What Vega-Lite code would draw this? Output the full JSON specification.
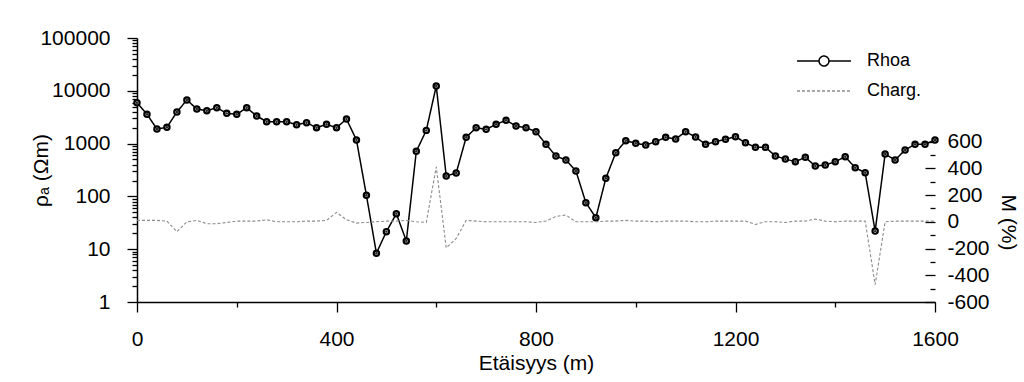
{
  "$schema": "https://vega.github.io/schema/vega-lite/v6.json",
  "width": 798,
  "height": 264,
  "autosize": "none",
  "padding": {"left": 137, "top": 38, "right": 89, "bottom": 80},
  "background": "white",
  "config": {
    "view": {"stroke": null},
    "font": "Liberation Sans",
    "axis": {
      "labelFont": "Liberation Sans", "titleFont": "Liberation Sans",
      "labelFontSize": 21, "titleFontSize": 21, "labelColor": "#000", "titleColor": "#000",
      "titleFontWeight": "normal", "domainColor": "#000", "tickColor": "#000",
      "domainWidth": 1.5, "tickWidth": 1.3, "grid": false, "labelOverlap": false, "labelFlush": false
    }
  },
  "datasets": {
    "rhoa": [
      {"x": 0, "rhoa": 5950, "series": "Rhoa"}, {"x": 20, "rhoa": 3590, "series": "Rhoa"}, {"x": 40, "rhoa": 1890, "series": "Rhoa"},
      {"x": 60, "rhoa": 2040, "series": "Rhoa"}, {"x": 80, "rhoa": 3970, "series": "Rhoa"}, {"x": 100, "rhoa": 6700, "series": "Rhoa"},
      {"x": 120, "rhoa": 4520, "series": "Rhoa"}, {"x": 140, "rhoa": 4200, "series": "Rhoa"}, {"x": 160, "rhoa": 4790, "series": "Rhoa"},
      {"x": 180, "rhoa": 3740, "series": "Rhoa"}, {"x": 200, "rhoa": 3590, "series": "Rhoa"}, {"x": 220, "rhoa": 4790, "series": "Rhoa"},
      {"x": 240, "rhoa": 3330, "series": "Rhoa"}, {"x": 260, "rhoa": 2600, "series": "Rhoa"}, {"x": 280, "rhoa": 2600, "series": "Rhoa"},
      {"x": 300, "rhoa": 2600, "series": "Rhoa"}, {"x": 320, "rhoa": 2280, "series": "Rhoa"}, {"x": 340, "rhoa": 2490, "series": "Rhoa"},
      {"x": 360, "rhoa": 2000, "series": "Rhoa"}, {"x": 380, "rhoa": 2320, "series": "Rhoa"}, {"x": 400, "rhoa": 2000, "series": "Rhoa"},
      {"x": 420, "rhoa": 2920, "series": "Rhoa"}, {"x": 440, "rhoa": 1170, "series": "Rhoa"}, {"x": 460, "rhoa": 105, "series": "Rhoa"},
      {"x": 480, "rhoa": 8.4, "series": "Rhoa"}, {"x": 500, "rhoa": 21.5, "series": "Rhoa"}, {"x": 520, "rhoa": 47, "series": "Rhoa"},
      {"x": 540, "rhoa": 14.3, "series": "Rhoa"}, {"x": 560, "rhoa": 714, "series": "Rhoa"}, {"x": 580, "rhoa": 1780, "series": "Rhoa"},
      {"x": 600, "rhoa": 12300, "series": "Rhoa"}, {"x": 620, "rhoa": 243, "series": "Rhoa"}, {"x": 640, "rhoa": 277, "series": "Rhoa"},
      {"x": 660, "rhoa": 1316, "series": "Rhoa"}, {"x": 680, "rhoa": 2000, "series": "Rhoa"}, {"x": 700, "rhoa": 1860, "series": "Rhoa"},
      {"x": 720, "rhoa": 2320, "series": "Rhoa"}, {"x": 740, "rhoa": 2760, "series": "Rhoa"}, {"x": 760, "rhoa": 2150, "series": "Rhoa"},
      {"x": 780, "rhoa": 2000, "series": "Rhoa"}, {"x": 800, "rhoa": 1680, "series": "Rhoa"}, {"x": 820, "rhoa": 969, "series": "Rhoa"},
      {"x": 840, "rhoa": 582, "series": "Rhoa"}, {"x": 860, "rhoa": 489, "series": "Rhoa"}, {"x": 880, "rhoa": 303, "series": "Rhoa"},
      {"x": 900, "rhoa": 76, "series": "Rhoa"}, {"x": 920, "rhoa": 39.5, "series": "Rhoa"}, {"x": 940, "rhoa": 220, "series": "Rhoa"},
      {"x": 960, "rhoa": 673, "series": "Rhoa"}, {"x": 980, "rhoa": 1135, "series": "Rhoa"}, {"x": 1000, "rhoa": 1012, "series": "Rhoa"},
      {"x": 1020, "rhoa": 940, "series": "Rhoa"}, {"x": 1040, "rhoa": 1087, "series": "Rhoa"}, {"x": 1060, "rhoa": 1316, "series": "Rhoa"},
      {"x": 1080, "rhoa": 1222, "series": "Rhoa"}, {"x": 1100, "rhoa": 1680, "series": "Rhoa"}, {"x": 1120, "rhoa": 1330, "series": "Rhoa"},
      {"x": 1140, "rhoa": 969, "series": "Rhoa"}, {"x": 1160, "rhoa": 1087, "series": "Rhoa"}, {"x": 1180, "rhoa": 1205, "series": "Rhoa"},
      {"x": 1200, "rhoa": 1352, "series": "Rhoa"}, {"x": 1220, "rhoa": 1040, "series": "Rhoa"}, {"x": 1240, "rhoa": 850, "series": "Rhoa"},
      {"x": 1260, "rhoa": 850, "series": "Rhoa"}, {"x": 1280, "rhoa": 582, "series": "Rhoa"}, {"x": 1300, "rhoa": 510, "series": "Rhoa"},
      {"x": 1320, "rhoa": 454, "series": "Rhoa"}, {"x": 1340, "rhoa": 550, "series": "Rhoa"}, {"x": 1360, "rhoa": 376, "series": "Rhoa"},
      {"x": 1380, "rhoa": 393, "series": "Rhoa"}, {"x": 1400, "rhoa": 454, "series": "Rhoa"}, {"x": 1420, "rhoa": 565, "series": "Rhoa"},
      {"x": 1440, "rhoa": 350, "series": "Rhoa"}, {"x": 1460, "rhoa": 281, "series": "Rhoa"}, {"x": 1480, "rhoa": 22, "series": "Rhoa"},
      {"x": 1500, "rhoa": 635, "series": "Rhoa"}, {"x": 1520, "rhoa": 489, "series": "Rhoa"}, {"x": 1540, "rhoa": 757, "series": "Rhoa"},
      {"x": 1560, "rhoa": 969, "series": "Rhoa"}, {"x": 1580, "rhoa": 969, "series": "Rhoa"}, {"x": 1600, "rhoa": 1170, "series": "Rhoa"}
    ],
    "charg": [
      {"x": 0, "m": 10, "series": "Charg."}, {"x": 20, "m": 10, "series": "Charg."}, {"x": 40, "m": 10, "series": "Charg."},
      {"x": 60, "m": 5, "series": "Charg."}, {"x": 80, "m": -75, "series": "Charg."}, {"x": 100, "m": 0, "series": "Charg."},
      {"x": 120, "m": 10, "series": "Charg."}, {"x": 140, "m": -15, "series": "Charg."}, {"x": 160, "m": -15, "series": "Charg."},
      {"x": 180, "m": -5, "series": "Charg."}, {"x": 200, "m": 5, "series": "Charg."}, {"x": 220, "m": 5, "series": "Charg."},
      {"x": 240, "m": 5, "series": "Charg."}, {"x": 260, "m": 15, "series": "Charg."}, {"x": 280, "m": 0, "series": "Charg."},
      {"x": 300, "m": 0, "series": "Charg."}, {"x": 320, "m": 0, "series": "Charg."}, {"x": 340, "m": 5, "series": "Charg."},
      {"x": 360, "m": 5, "series": "Charg."}, {"x": 380, "m": 10, "series": "Charg."}, {"x": 400, "m": 70, "series": "Charg."},
      {"x": 420, "m": 15, "series": "Charg."}, {"x": 440, "m": -10, "series": "Charg."}, {"x": 460, "m": -5, "series": "Charg."},
      {"x": 480, "m": 0, "series": "Charg."}, {"x": 500, "m": 5, "series": "Charg."}, {"x": 520, "m": 5, "series": "Charg."},
      {"x": 540, "m": 10, "series": "Charg."}, {"x": 560, "m": 0, "series": "Charg."}, {"x": 580, "m": -5, "series": "Charg."},
      {"x": 600, "m": 410, "series": "Charg."}, {"x": 620, "m": -195, "series": "Charg."}, {"x": 640, "m": -125, "series": "Charg."},
      {"x": 660, "m": 10, "series": "Charg."}, {"x": 680, "m": 5, "series": "Charg."}, {"x": 700, "m": 0, "series": "Charg."},
      {"x": 720, "m": 0, "series": "Charg."}, {"x": 740, "m": 0, "series": "Charg."}, {"x": 760, "m": 0, "series": "Charg."},
      {"x": 780, "m": 0, "series": "Charg."}, {"x": 800, "m": -5, "series": "Charg."}, {"x": 820, "m": 5, "series": "Charg."},
      {"x": 840, "m": 40, "series": "Charg."}, {"x": 860, "m": 50, "series": "Charg."}, {"x": 880, "m": 0, "series": "Charg."},
      {"x": 900, "m": 0, "series": "Charg."}, {"x": 920, "m": 0, "series": "Charg."}, {"x": 940, "m": 5, "series": "Charg."},
      {"x": 960, "m": 5, "series": "Charg."}, {"x": 980, "m": 10, "series": "Charg."}, {"x": 1000, "m": 5, "series": "Charg."},
      {"x": 1020, "m": 5, "series": "Charg."}, {"x": 1040, "m": 0, "series": "Charg."}, {"x": 1060, "m": 5, "series": "Charg."},
      {"x": 1080, "m": 5, "series": "Charg."}, {"x": 1100, "m": 5, "series": "Charg."}, {"x": 1120, "m": 0, "series": "Charg."},
      {"x": 1140, "m": 0, "series": "Charg."}, {"x": 1160, "m": 5, "series": "Charg."}, {"x": 1180, "m": 5, "series": "Charg."},
      {"x": 1200, "m": 5, "series": "Charg."}, {"x": 1220, "m": 5, "series": "Charg."}, {"x": 1240, "m": -20, "series": "Charg."},
      {"x": 1260, "m": 0, "series": "Charg."}, {"x": 1280, "m": 0, "series": "Charg."}, {"x": 1300, "m": -5, "series": "Charg."},
      {"x": 1320, "m": 5, "series": "Charg."}, {"x": 1340, "m": 5, "series": "Charg."}, {"x": 1360, "m": 20, "series": "Charg."},
      {"x": 1380, "m": 5, "series": "Charg."}, {"x": 1400, "m": 0, "series": "Charg."}, {"x": 1420, "m": 5, "series": "Charg."},
      {"x": 1440, "m": 5, "series": "Charg."}, {"x": 1460, "m": 5, "series": "Charg."}, {"x": 1480, "m": -470, "series": "Charg."},
      {"x": 1500, "m": 0, "series": "Charg."}, {"x": 1520, "m": 5, "series": "Charg."}, {"x": 1540, "m": 5, "series": "Charg."},
      {"x": 1560, "m": 5, "series": "Charg."}, {"x": 1580, "m": 5, "series": "Charg."}, {"x": 1600, "m": 5, "series": "Charg."}
    ]
  },
  "layer": [
    {
      "data": {"name": "rhoa"},
      "encoding": {
        "x": {
          "field": "x", "type": "quantitative",
          "scale": {"domain": [0, 1600], "nice": false, "zero": false},
          "axis": {
            "title": "Etäisyys (m)",
            "values": [0, 200, 400, 600, 800, 1000, 1200, 1400, 1600],
            "format": "d",
            "labelExpr": "datum.value % 400 === 0 ? datum.label : ''",
            "tickSize": {"condition": {"test": "datum.value % 400 === 0", "value": 10}, "value": 5},
            "labelPadding": 16,
            "titleX": 399, "titleY": 61, "titleBaseline": "middle", "titleAlign": "center"
          }
        },
        "y": {
          "field": "rhoa", "type": "quantitative",
          "scale": {"type": "log", "domain": [1, 100000], "nice": false},
          "axis": {
            "title": "ρₐ (Ωm)",
            "orient": "left",
            "values": [1,2,3,4,5,6,7,8,9,10,20,30,40,50,60,70,80,90,100,200,300,400,500,600,700,800,900,1000,2000,3000,4000,5000,6000,7000,8000,9000,10000,20000,30000,40000,50000,60000,70000,80000,90000,100000],
            "labelExpr": "abs(log(datum.value)/LN10 - round(log(datum.value)/LN10)) < 0.000001 ? format(datum.value, 'd') : ''",
            "tickSize": {"condition": {"test": "abs(log(datum.value)/LN10 - round(log(datum.value)/LN10)) < 0.000001", "value": 10}, "value": 5},
            "labelPadding": 17,
            "titleX": -96, "titleY": 132, "titleAngle": -90, "titleBaseline": "middle", "titleAlign": "center"
          }
        }
      },
      "layer": [
        {
          "mark": {"type": "line", "strokeWidth": 1.5},
          "encoding": {
            "color": {"field": "series", "type": "nominal",
              "scale": {"domain": ["Rhoa", "Charg."], "range": ["#000000", "#8c8c8c"]},
              "legend": {
                "title": null, "orient": "top-right", "offset": 13, "padding": 0,
                "symbolSize": 324, "symbolStrokeWidth": 1.5, "labelOffset": 51,
                "labelFont": "Liberation Sans", "labelFontSize": 18, "labelColor": "#000", "rowPadding": 11,
                "encode": {"symbols": {"update": {
                  "shape": {"signal": "datum.value === 'Rhoa' ? 'M-1,0H1.45M2.55,0H5M2.55,0A0.55,0.55,0,1,1,1.45,0A0.55,0.55,0,1,1,2.55,0Z' : 'M-1,0H5'"},
                  "fill": {"value": "white"}
                }}}
              }
            },
            "strokeDash": {"field": "series", "type": "nominal",
              "scale": {"domain": ["Rhoa", "Charg."], "range": [[1, 0], [3, 2]]},
              "legend": null
            }
          }
        },
        {
          "mark": {"type": "point", "shape": "circle", "filled": true, "fill": "white", "stroke": "black", "strokeWidth": 2.2, "size": 28, "opacity": 1}
        },
        {
          "mark": {"type": "point", "shape": "circle", "filled": true, "color": "#222", "size": 6, "opacity": 1}
        }
      ]
    },
    {
      "data": {"name": "charg"},
      "encoding": {
        "x": {"field": "x", "type": "quantitative", "scale": {"domain": [0, 1600], "nice": false, "zero": false}},
        "y": {
          "field": "m", "type": "quantitative",
          "scale": {"domain": [-600, 1374], "nice": false, "zero": false},
          "axis": {
            "title": "M (%)",
            "orient": "right",
            "domain": false,
            "values": [-600,-500,-400,-300,-200,-100,0,100,200,300,400,500,600],
            "labelExpr": "datum.value % 200 === 0 ? '' + datum.value : ''",
            "tickSize": {"condition": {"test": "datum.value % 200 === 0", "value": -10}, "value": -5},
            "labelPadding": 22,
            "titleX": 72, "titleY": 184, "titleAngle": 90, "titleBaseline": "middle", "titleAlign": "center"
          }
        }
      },
      "layer": [
        {
          "mark": {"type": "line", "strokeWidth": 1.1},
          "encoding": {
            "color": {"field": "series", "type": "nominal"},
            "strokeDash": {"field": "series", "type": "nominal", "legend": null}
          }
        },
        {
          "data": {"values": [{}]},
          "mark": {"type": "rule", "color": "#000", "strokeWidth": 1.5},
          "encoding": {
            "x": {"datum": 1600},
            "y": {"datum": -600},
            "y2": {"datum": 600}
          }
        }
      ]
    }
  ],
  "resolve": {"scale": {"y": "independent"}}
}
